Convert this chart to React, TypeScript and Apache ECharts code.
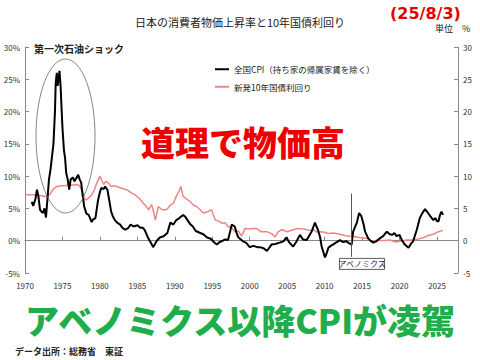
import React, { useEffect, useRef } from "react";
import * as echarts from "echarts";

const cpiYears = [1970.9, 1971.1, 1971.4, 1971.6, 1971.8, 1972.0, 1972.2, 1972.4, 1972.6, 1972.8, 1973.0, 1973.2, 1973.4, 1973.6, 1973.8, 1974.0, 1974.1, 1974.25, 1974.35, 1974.5, 1974.6, 1974.75, 1974.9, 1975.0, 1975.2, 1975.35, 1975.5, 1975.7, 1975.9, 1976.1, 1976.4, 1976.6, 1976.8, 1977.1, 1977.3, 1977.5, 1977.7, 1977.9, 1978.2, 1978.5, 1978.9, 1979.1, 1979.4, 1979.75, 1980.0, 1980.2, 1980.5, 1980.7, 1981.0, 1981.3, 1981.5, 1981.75, 1982.0, 1982.3, 1982.7, 1983.0, 1983.4, 1983.8, 1984.1, 1984.5, 1985.0, 1985.4, 1985.75, 1986.0, 1986.4, 1986.8, 1987.1, 1987.4, 1987.6, 1988.0, 1988.5, 1989.0, 1989.4, 1989.8, 1990.2, 1990.6, 1991.1, 1991.4, 1991.8, 1992.1, 1992.4, 1992.8, 1993.4, 1993.8, 1994.3, 1994.8, 1995.2, 1995.6, 1996.0, 1996.4, 1996.7, 1997.1, 1997.4, 1997.6, 1998.0, 1998.3, 1998.5, 1999.1, 1999.5, 2000.0, 2000.5, 2001.0, 2001.4, 2001.9, 2002.3, 2002.9, 2003.4, 2004.0, 2004.5, 2004.9, 2005.3, 2005.8, 2006.2, 2006.7, 2007.1, 2007.6, 2008.0, 2008.3, 2008.7, 2009.1, 2009.4, 2009.6, 2010.05, 2010.3, 2010.5, 2010.8, 2011.1, 2011.5, 2012.05, 2012.4, 2012.9, 2013.3, 2013.6, 2013.8, 2014.3, 2014.6, 2014.9, 2015.2, 2015.4, 2015.8, 2016.1, 2016.5, 2016.9, 2017.4, 2017.8, 2018.3, 2018.7, 2019.0, 2019.3, 2019.6, 2020.0, 2020.3, 2020.7, 2021.2, 2021.5, 2021.8, 2022.3, 2022.7, 2023.0, 2023.4, 2023.8, 2024.1, 2024.5, 2024.8, 2025.0, 2025.2, 2025.4, 2025.6, 2025.8];
const cpiValues = [6.0, 5.4, 6.5, 7.9, 6.8, 4.8, 4.5, 4.3, 5.0, 3.6, 6.5, 9.5, 11.0, 13.0, 15.0, 20.0, 24.5, 26.0, 24.0, 25.0, 26.3, 24.0, 20.0, 17.5, 14.0, 12.8, 10.5, 9.5, 7.9, 9.5, 9.8, 9.2, 9.6, 10.2, 9.5, 9.0, 7.0, 5.3, 4.2, 4.0, 2.9, 3.3, 3.5, 6.3, 7.5, 8.2, 8.0, 8.4, 7.9, 5.9, 4.5, 3.7, 3.2, 2.8, 2.5, 2.0, 1.7, 2.0, 2.5, 2.2, 2.4, 2.0, 2.0, 1.6, 0.5, -0.3, -1.0, -0.4, 0.0, 0.5, 0.7, 1.2, 2.8, 2.5, 3.2, 3.5, 4.0, 3.7, 3.0, 2.5, 2.2, 1.5, 1.2, 1.0, 0.5, 0.3, -0.2, -0.6, -0.2, 0.0, 0.2, 0.1, 1.5, 2.5, 2.2, 1.0, 0.5, -0.1, -0.3, -1.0, -0.8, -1.0, -1.0, -1.2, -1.6, -0.6, -0.5, -0.3, -0.1, 0.5, -0.3, -0.9, -0.2, 0.9, 0.2, 0.1, 0.9, 1.5, 2.8, 1.7, 0.5, -0.9, -2.6, -1.8, -1.1, -0.8, -0.6, -0.3, 0.1, -0.2, -0.1, -0.4, -0.6, 1.4, 2.8, 4.3, 3.8, 2.5, 1.4, 0.4, 0.0, -0.3, -0.1, 0.4, 0.7, 1.4, 1.0, 0.9, 1.2, 0.7, 0.9, 0.1, -0.6, -1.1, -0.5, -0.1, 1.7, 3.5, 4.2, 4.9, 4.3, 3.8, 3.2, 3.5, 3.0, 3.0, 4.0, 4.5, 4.0];

const jgbYears = [1970.0, 1971.0, 1972.0, 1972.9, 1973.3, 1973.8, 1974.2, 1975.0, 1976.0, 1977.0, 1977.3, 1977.7, 1978.0, 1978.4, 1978.9, 1979.3, 1979.6, 1980.0, 1980.3, 1980.5, 1980.8, 1981.1, 1981.5, 1982.0, 1982.7, 1983.2, 1983.6, 1984.2, 1984.7, 1985.3, 1985.8, 1986.2, 1986.5, 1986.9, 1987.2, 1987.4, 1987.8, 1988.3, 1988.9, 1989.4, 1989.8, 1990.2, 1990.5, 1990.8, 1991.1, 1991.5, 1992.0, 1992.5, 1992.9, 1993.4, 1993.8, 1994.4, 1994.9, 1995.4, 1995.9, 1996.3, 1996.7, 1997.1, 1997.6, 1998.0, 1998.5, 1998.9, 1999.4, 2000.0, 2000.5, 2000.9, 2001.5, 2002.3, 2002.9, 2003.4, 2003.8, 2004.3, 2005.0, 2005.8, 2006.4, 2007.2, 2008.0, 2008.5, 2009.0, 2009.4, 2010.0, 2010.5, 2011.2, 2012.0, 2012.7, 2013.4, 2014.2, 2015.0, 2015.6, 2016.3, 2017.0, 2018.0, 2018.7, 2019.5, 2020.1, 2021.0, 2021.8, 2022.5, 2023.2, 2023.8, 2024.5, 2025.0, 2025.8];
const jgbValues = [7.1, 7.1, 7.0, 6.8, 7.2, 8.0, 8.4, 8.5, 8.6, 8.7, 8.5, 7.5, 6.3, 6.5, 7.1, 8.0, 9.0, 10.0, 9.2, 8.7, 9.2, 9.0, 8.4, 8.5, 8.2, 8.0, 7.9, 7.4, 7.1, 6.5, 5.8, 5.3, 4.8, 5.6, 4.3, 3.2, 5.3, 4.8, 4.8, 5.5, 5.8, 6.9, 7.5, 8.4, 6.9, 6.5, 6.1, 5.5, 5.3, 4.8, 4.3, 4.5, 4.8, 3.2, 3.0, 2.7, 2.8, 2.2, 2.0, 1.4, 1.5, 0.7, 1.9, 1.8, 1.9, 1.9, 1.4, 1.4, 1.1, 0.6, 1.4, 1.7, 1.4, 1.7, 1.9, 1.8, 1.6, 1.7, 1.3, 1.4, 1.3, 1.1, 1.2, 1.0, 0.8, 0.7, 0.6, 0.4, 0.4, -0.1, 0.05, 0.05, 0.1, -0.2, -0.1, 0.1, 0.1, 0.25, 0.5, 0.8, 1.0, 1.3, 1.6];

const yTicks = [-5, 0, 5, 10, 15, 20, 25, 30];
const seriesNames = ["全国CPI（持ち家の帰属家賃を除く）", "新発10年国債利回り"];
const abenomicsYear = 2013.6;
const abenomicsRange = [7.3, -2.5];

const FONT = "'Noto Sans CJK JP', 'Noto Sans', sans-serif";

export default function App() {
  const ref = useRef<HTMLDivElement>(null);
  useEffect(() => {
    document.body.style.margin = "0";
    if (!ref.current) return;
    const chart = echarts.init(ref.current, undefined, { renderer: "svg" });
    const cpiData = cpiYears.map((y, i) => [y, cpiValues[i]]);
    const jgbData = jgbYears.map((y, i) => [y, jgbValues[i]]);
    const yAxisBase = {
      type: "value",
      min: yTicks[0],
      max: yTicks[yTicks.length - 1],
      interval: 5,
      splitLine: { show: false },
      axisLine: { show: true, lineStyle: { color: "#888", width: 1 } },
      axisTick: { show: true, inside: true, length: 4, lineStyle: { color: "#888" } },
    };
    chart.setOption({
      animation: false,
      textStyle: { fontFamily: FONT },
      grid: { left: 25, right: 22, top: 47, bottom: 87 },
      legend: {
        orient: "vertical",
        left: 210,
        top: 60,
        itemWidth: 14,
        itemHeight: 2,
        itemGap: 9,
        icon: "rect",
        data: seriesNames,
        textStyle: { fontSize: 8.5, color: "#222", fontFamily: FONT },
      },
      xAxis: {
        type: "value",
        min: 1970,
        max: 2027.8,
        interval: 5,
        splitLine: { show: false },
        axisLine: { show: true, onZero: true, lineStyle: { color: "#888" } },
        axisTick: { show: true, inside: true, length: 4, lineStyle: { color: "#888" } },
        axisLabel: {
          margin: 8,
          fontSize: 8,
          color: "#333",
          showMaxLabel: false,
          formatter: (v: number) => (Math.abs(v % 5) < 0.01 ? String(v) : ""),
        },
      },
      yAxis: [
        {
          ...yAxisBase,
          position: "left",
          axisLabel: { fontSize: 8, color: "#333", margin: 5, formatter: "{value}%" },
        },
        {
          ...yAxisBase,
          position: "right",
          axisLabel: { fontSize: 8, color: "#333", margin: 5, formatter: "{value}" },
        },
      ],
      series: [
        {
          name: seriesNames[1],
          type: "line",
          data: jgbData,
          showSymbol: false,
          symbol: "none",
          lineStyle: { color: "#f08585", width: 1.5 },
          itemStyle: { color: "#f08585" },
          z: 2,
        },
        {
          name: seriesNames[0],
          type: "line",
          data: cpiData,
          showSymbol: false,
          symbol: "none",
          lineStyle: { color: "#000", width: 2 },
          itemStyle: { color: "#000" },
          z: 3,
          markLine: {
            silent: true,
            symbol: "none",
            label: { show: false },
            lineStyle: { color: "#555", width: 1, type: "solid" },
            data: [
              [
                { coord: [abenomicsYear, abenomicsRange[0]] },
                { coord: [abenomicsYear, abenomicsRange[1]] },
              ],
            ],
          },
        },
      ],
      graphic: [
        {
          type: "text",
          left: "center",
          top: 16,
          style: { text: "日本の消費者物価上昇率と10年国債利回り", fontSize: 11, fill: "#222", fontFamily: FONT },
        },
        {
          type: "text",
          left: 390,
          top: 5,
          style: { text: "(25/8/3)", fontSize: 16, fontWeight: "bold", fill: "#e60000", fontFamily: "'DejaVu Sans', sans-serif" },
        },
        {
          type: "text",
          left: 435,
          top: 24,
          style: { text: "単位　%", fontSize: 9, fill: "#222", fontFamily: FONT },
        },
        {
          type: "text",
          left: 34,
          top: 43,
          style: { text: "第一次石油ショック", fontSize: 10, fontWeight: "bold", fill: "#222", fontFamily: FONT },
        },
        {
          type: "ellipse",
          shape: { cx: 65.5, cy: 136, rx: 29.5, ry: 77 },
          style: { fill: "none", stroke: "#666", lineWidth: 0.8 },
          z: 10,
        },
        {
          type: "group",
          left: 338,
          top: 258,
          z: 10,
          children: [
            { type: "rect", shape: { x: 0, y: 0, width: 45, height: 11 }, style: { fill: "#fff", stroke: "#333", lineWidth: 0.8 } },
            { type: "text", x: 22.5, y: 5.5, style: { text: "アベノミクス", fontSize: 8, fill: "#222", align: "center", verticalAlign: "middle", fontFamily: FONT } },
          ],
        },
        {
          type: "text",
          x: 243,
          y: 141,
          z: 20,
          style: { text: "道理で物価高", fontSize: 34, fontWeight: 900, fill: "#ee0000", align: "center", verticalAlign: "middle", fontFamily: FONT },
        },
        {
          type: "text",
          x: 240,
          y: 319,
          z: 20,
          style: { text: "アベノミクス以降CPIが凌駕", fontSize: 34, fontWeight: 900, fill: "#1fae4b", align: "center", verticalAlign: "middle", fontFamily: FONT },
        },
        {
          type: "text",
          left: 15,
          top: 347,
          z: 21,
          style: { text: "データ出所：総務省　東証", fontSize: 9, fontWeight: "bold", fill: "#222", fontFamily: FONT },
        },
      ],
    });
    return () => chart.dispose();
  }, []);
  return <div ref={ref} style={{ width: 480, height: 360 }} />;
}
